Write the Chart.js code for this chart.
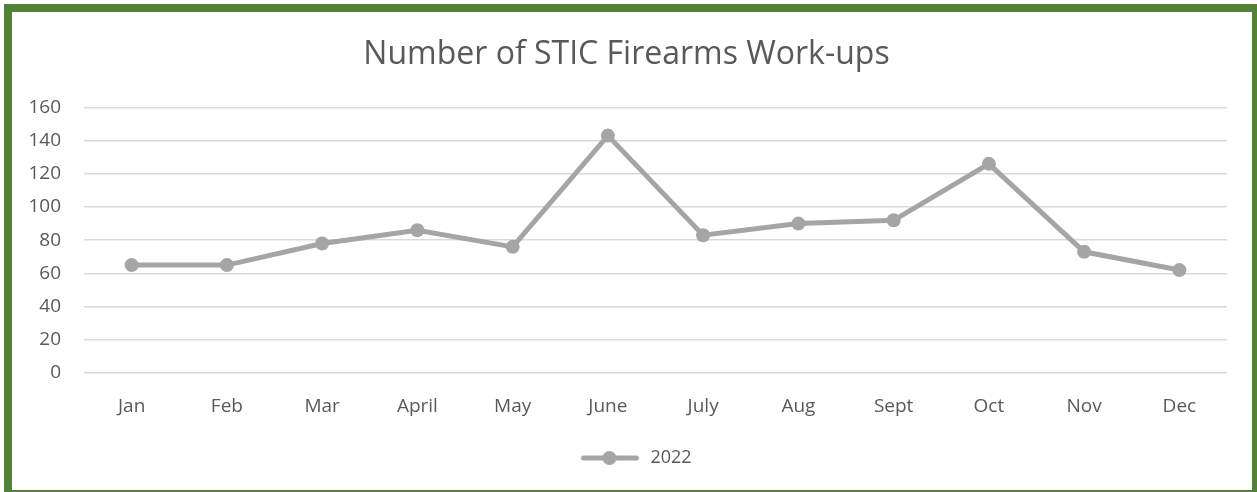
<!DOCTYPE html>
<html lang="en">
<head>
    <meta charset="UTF-8">
    <title>Number of STIC Firearms Work-ups</title>
    <script src="https://cdn.jsdelivr.net/npm/chart.js"></script>
    <style>
        body {
            margin: 0;
            padding: 0;
            background: #fff;
        }

        /* green frame round the chart */
        .frame {
            position: absolute;
            left: 4px;
            top: 4px;
            width: 1240px;
            height: 478px;
            border-style: solid;
            border-color: #548235;
            border-width: 8px 5px 2px 8px;
            background: #fff;
        }

        canvas {
            display: block;
        }
    </style>
</head>
<body>

    <div class="frame">
        <canvas id="workupsChart" width="1240" height="478"></canvas>
    </div>

    <script>
        // Data
        const months = ["Jan", "Feb", "Mar", "April", "May", "June", "July", "Aug", "Sept", "Oct", "Nov", "Dec"];
        const workups2022 = [65, 65, 78, 86, 76, 143, 83, 90, 92, 126, 73, 62];
        const yTicks = [0, 20, 40, 60, 80, 100, 120, 140, 160];

        const lineColor = "#a5a5a5";
        const textColor = "#595959";
        const fontFamily = "'Open Sans', 'Noto Sans', Arial, sans-serif";

        // legend marker: short line with a dot in the middle
        function legendMarker() {
            const c = document.createElement("canvas");
            c.width = 80;
            c.height = 16;
            const g = c.getContext("2d");
            g.strokeStyle = lineColor;
            g.lineWidth = 5;
            g.lineCap = "round";
            g.beginPath();
            g.moveTo(22, 8);
            g.lineTo(75, 8);
            g.stroke();
            g.fillStyle = lineColor;
            g.beginPath();
            g.arc(48, 8, 7, 0, Math.PI * 2);
            g.fill();
            return c;
        }

        const ctx = document.getElementById("workupsChart").getContext("2d");
        new Chart(ctx, {
            type: "line",
            data: {
                labels: months,
                datasets: [{
                    label: "2022",
                    data: workups2022,
                    borderColor: lineColor,
                    backgroundColor: lineColor,
                    borderWidth: 5,
                    pointRadius: 7,
                    pointHoverRadius: 7,
                    pointBorderWidth: 0,
                    pointStyle: "circle",
                    tension: 0,
                    fill: false
                }]
            },
            options: {
                responsive: false,
                animation: false,
                layout: {
                    padding: { left: 14, right: 25, top: 0, bottom: 13 }
                },
                plugins: {
                    title: {
                        display: true,
                        text: "Number of STIC Firearms Work-ups",
                        color: textColor,
                        font: { family: fontFamily, size: 32, weight: "normal" },
                        padding: { top: 24, bottom: 33 }
                    },
                    legend: {
                        display: true,
                        position: "bottom",
                        labels: {
                            color: textColor,
                            font: { family: fontFamily, size: 18 },
                            usePointStyle: true,
                            pointStyleWidth: 80,
                            padding: 16,
                            generateLabels: chart => chart.data.datasets.map((ds, i) => ({
                                text: ds.label,
                                fontColor: textColor,
                                pointStyle: legendMarker(),
                                datasetIndex: i,
                                lineWidth: 0,
                                strokeStyle: "transparent",
                                fillStyle: lineColor
                            }))
                        }
                    },
                    tooltip: { enabled: false }
                },
                scales: {
                    x: {
                        offset: true,
                        grid: { display: false, drawTicks: false },
                        border: { display: false },
                        ticks: {
                            color: textColor,
                            font: { family: fontFamily, size: 19 },
                            padding: 22,
                            maxRotation: 0
                        },
                        afterFit: axis => { axis.height = 60; }
                    },
                    y: {
                        min: 0,
                        max: 160,
                        afterBuildTicks: axis => {
                            axis.ticks = yTicks.map(v => ({ value: v }));
                        },
                        grid: { color: "#d9d9d9", lineWidth: 1.5, drawTicks: false },
                        border: { display: false },
                        ticks: {
                            color: textColor,
                            font: { family: fontFamily, size: 19 },
                            padding: 23
                        },
                        afterFit: axis => { axis.width = 58; }
                    }
                }
            }
        });
    </script>
</body>
</html>
